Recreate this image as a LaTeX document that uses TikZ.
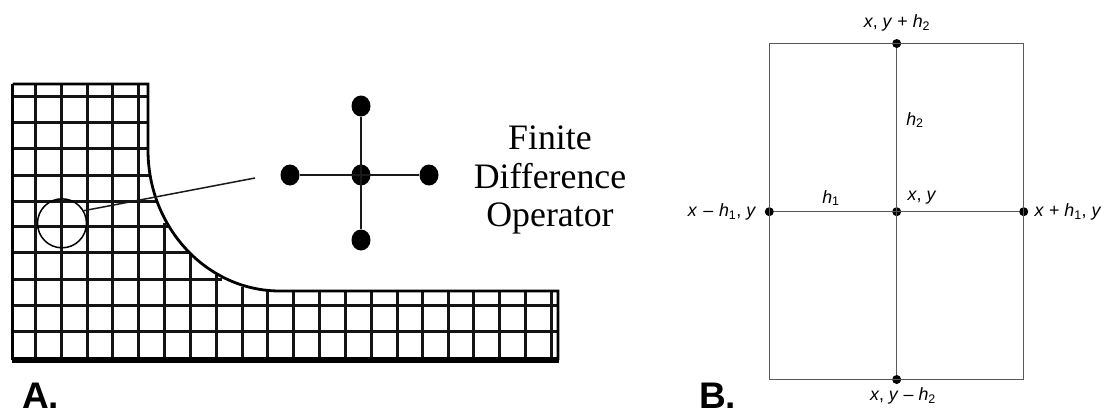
\documentclass[tikz,border=0pt]{standalone}
\usepackage{fontspec}
\setmainfont{Liberation Sans}
\newfontfamily\serifface{Liberation Serif}
\usetikzlibrary{shapes.geometric}
\tikzset{
 gridline/.style={line width=3pt,black!92},
 outline/.style={line width=2.8pt,black},
 thinlink/.style={line width=1.5pt,black!90},
 bigdot/.style={ellipse,fill=black,inner sep=0pt,minimum width=19pt,minimum height=21pt},
 bline/.style={line width=1.3pt,black!65},
 bdot/.style={circle,fill=black,inner sep=0pt,minimum size=9pt},
 blabel/.style={inner sep=0pt,font=\fontsize{17.8}{20}\selectfont},
 panel/.style={inner sep=0pt,font=\fontsize{37}{40}\selectfont\bfseries},
}
\newcommand{\vv}[1]{\textit{#1}}
\newcommand{\ssub}[1]{\textsubscript{#1}}
\begin{document}
\begin{tikzpicture}[x=1pt,y=-1pt]
\useasboundingbox (0,0) rectangle (1104,413);
% --- Panel A: mesh
\foreach \x in {35,61,87,112.7,138}{\draw[gridline] (\x,84) -- (\x,360);}
\draw[gridline] (164.5,223) -- (164.5,360);
\draw[gridline] (190,253) -- (190,360);
\draw[gridline] (216,275) -- (216,360);
\draw[gridline] (242,287) -- (242,360);
\draw[gridline] (267.5,291) -- (267.5,360);
\foreach \x in {293,319,345,371,397,422,448,473,499,525,551}{\draw[gridline] (\x,291) -- (\x,360);}
\foreach \y in {96,122.7,148.7}{\draw[gridline] (12.5,\y) -- (148,\y);}
\draw[gridline] (12.5,175) -- (151,175);
\draw[gridline] (12.5,201) -- (157,201);
\draw[gridline] (12.5,226.7) -- (168,226.7);
\draw[gridline] (12.5,252.7) -- (190,252.7);
\draw[gridline] (12.5,279) -- (222,279);
\draw[gridline] (12.5,305) -- (558,305);
\draw[gridline] (12.5,331.7) -- (558,331.7);
\draw[outline] (12.5,84) -- (148,84) -- (148,150)
  .. controls (148,227.9) and (207.1,291) .. (280,291) -- (558,291) -- (558,360);
\draw[outline] (12.5,84) -- (12.5,360);
\draw[line width=6pt] (11.5,360) -- (559,360);
% --- Panel A: circle and leader
\node[circle,draw=black,line width=1.5pt,fill=none,inner sep=0pt,minimum size=49pt] (lens) at (62,223.3) {};
\coordinate (leaderend) at (255,178);
\draw[thinlink] (lens.30) -- (leaderend);
% --- Panel A: operator
\node[bigdot] (c) at (361,175) {};
\node[bigdot] (t) at (361,106) {};
\node[bigdot] (b) at (361,240) {};
\node[bigdot] (l) at (290,175) {};
\node[bigdot] (r) at (429,175) {};
\draw[thinlink] (t) -- (b);
\draw[thinlink] (l) -- (r);
\node[align=center,inner sep=0pt,font=\serifface\fontsize{35.8}{38.5}\selectfont] (fdo) at (550,180) {Finite\\Difference\\Operator};
\node[panel,anchor=base west] (pa) at (22,408.5) {A.};
% --- Panel B
\node[bdot] (n) at (896.7,43.5) {};
\node[bdot] (s) at (896.7,379.5) {};
\node[bdot] (w) at (769.3,211.7) {};
\node[bdot] (e) at (1023.7,211.7) {};
\node[bdot] (o) at (896.7,211.7) {};
\coordinate (nw) at (769.3,43.5);
\coordinate (se) at (1023.7,379.5);
\draw[bline] (nw) rectangle (se);
\draw[bline] (n) -- (s);
\draw[bline] (w) -- (e);
\node[blabel] (ln) at (897,23) {\vv{x}, \vv{y} + \vv{h}\ssub{2}};
\node[blabel] (ls) at (903,396) {\vv{x}, \vv{y} – \vv{h}\ssub{2}};
\node[blabel] (lw) at (722,212) {\vv{x}\,\,–\,\,\vv{h}\ssub{1}, \vv{y}};
\node[blabel] (le) at (1068,212) {\vv{x} + \vv{h}\ssub{1}, \vv{y}};
\node[blabel] (lo) at (922,198) {\vv{x}, \vv{y}};
\node[blabel] (h1) at (831,198) {\vv{h}\ssub{1}};
\node[blabel] (h2) at (915,120) {\vv{h}\ssub{2}};
\node[panel,anchor=base west] (pb) at (699,408.5) {B.};
\end{tikzpicture}
\end{document}
